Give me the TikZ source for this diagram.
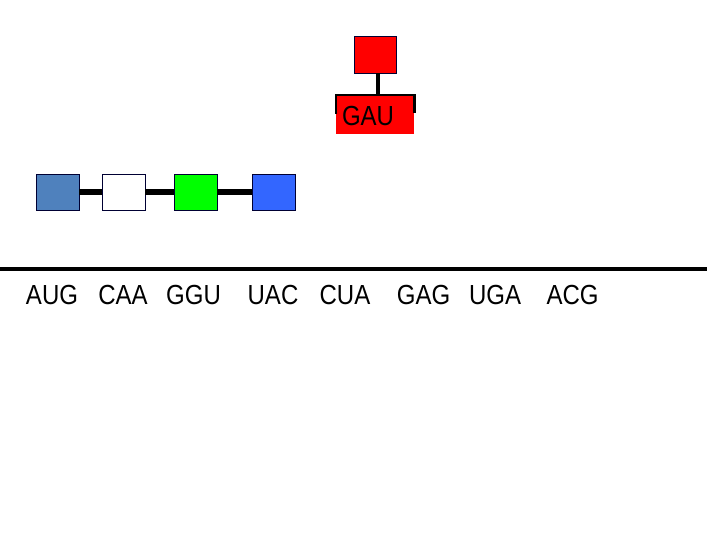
\documentclass[tikz,border=0pt]{standalone}
\usepackage{fontspec}
\setmainfont{Liberation Sans}
\definecolor{sq1}{RGB}{79,129,189}
\definecolor{sq3}{RGB}{0,255,0}
\definecolor{sq4}{RGB}{51,102,255}
\definecolor{trna}{RGB}{255,0,0}
\newcommand{\cdn}[1]{\scalebox{1}[1.15]{#1}}
\tikzset{
  aa/.style={draw=black!80!blue, line width=0.8pt, minimum width=43pt, minimum height=36pt, inner sep=0pt},
  bond/.style={line width=6.5pt},
  codon/.style={font=\fontsize{24}{24}\selectfont, inner sep=0pt, anchor=center},
  stem/.style={line width=3.5pt},
}
\begin{document}
\begin{tikzpicture}[x=1pt,y=-1pt]
\useasboundingbox (0,0) rectangle (720,540);
% tRNA
\node[aa, fill=trna, minimum width=42pt, minimum height=37pt] (top) at (375.5,54.5) {};
\fill[trna] (336,94) rectangle (414,134);
\coordinate (barL) at (336,95);
\coordinate (barR) at (414.5,95);
\coordinate (tickL) at (336,114);
\coordinate (tickR) at (414.5,113);
\coordinate (stemB) at (378,95);
\draw[stem] (top.south -| stemB) -- (stemB);
\draw[line width=2.5pt] (tickL) -- (barL) -- (barR) -- (tickR);
\node[codon] (gau) at (368,116) {\cdn{GAU}};
% peptide chain
\node[aa, fill=sq1] (a1) at (57.5,192) {};
\node[aa, fill=white] (a2) at (123.5,192) {};
\node[aa, fill=sq3] (a3) at (195.5,192) {};
\node[aa, fill=sq4] (a4) at (273.5,192) {};
\draw[bond] (a1) -- (a2);
\draw[bond] (a2) -- (a3);
\draw[bond] (a3) -- (a4);
% mRNA
\coordinate (mL) at (0,269);
\coordinate (mR) at (707,269);
\draw[line width=4pt] (mL) -- (mR);
\node[codon] (c1) at (52,295) {\cdn{AUG}};
\node[codon] (c2) at (123,295) {\cdn{CAA}};
\node[codon] (c3) at (193.5,295) {\cdn{GGU}};
\node[codon] (c4) at (273,295) {\cdn{UAC}};
\node[codon] (c5) at (345,295) {\cdn{CUA}};
\node[codon] (c6) at (423.5,295) {\cdn{GAG}};
\node[codon] (c7) at (495,295) {\cdn{UGA}};
\node[codon] (c8) at (572.5,295) {\cdn{ACG}};
\end{tikzpicture}
\end{document}
